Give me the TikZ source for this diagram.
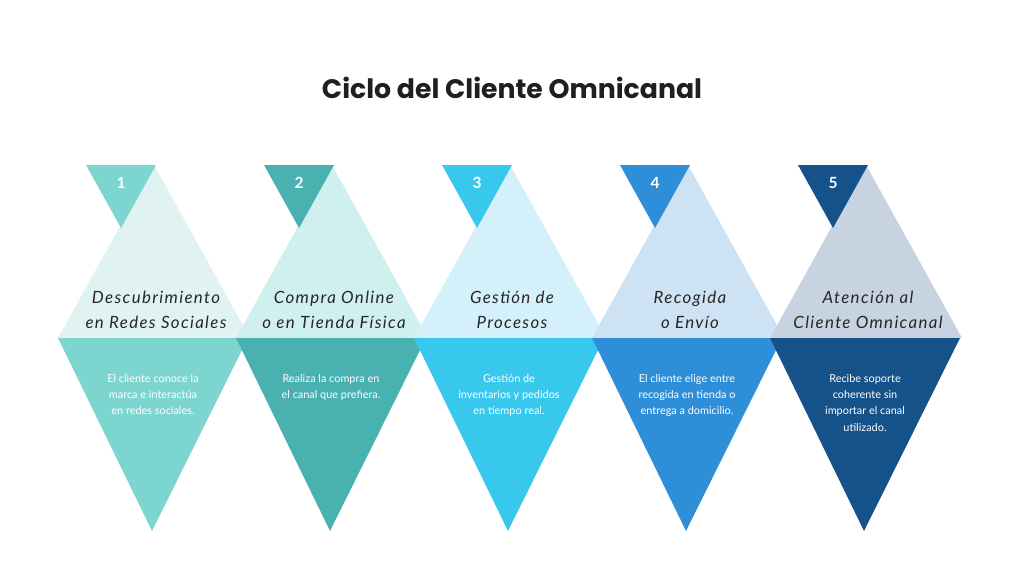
\documentclass[tikz,border=0pt]{standalone}
\usepackage{fontspec}
\setmainfont{Lato}
\newfontfamily\titlefont{Poppins}[BoldFont=* Bold]
\newfontfamily\labelfont{Lato}[LetterSpace=8]
\definecolor{cA}{HTML}{7DD5D0}\definecolor{lA}{HTML}{E0F3F2}
\definecolor{cB}{HTML}{4AB1B1}\definecolor{lB}{HTML}{D0EFEF}
\definecolor{cC}{HTML}{38C8EE}\definecolor{lC}{HTML}{D4F0FA}
\definecolor{cD}{HTML}{2E8FD8}\definecolor{lD}{HTML}{CDE2F3}
\definecolor{cE}{HTML}{15528A}\definecolor{lE}{HTML}{C8D3E1}
\begin{document}
\begin{tikzpicture}[x=0.05cm,y=-0.05cm,
  title/.style={font=\titlefont\bfseries\fontsize{38}{44}\selectfont,text=black!88},
  stage/.style={font=\labelfont\itshape\fontsize{24}{36}\selectfont,text=black!85,align=center},
  desc/.style={font=\fontsize{15.5}{23}\selectfont,text=white,align=center},
  num/.style={font=\bfseries\fontsize{22}{26}\selectfont,text=white}]
\useasboundingbox[fill=white] (0,0) rectangle (1024,576);
\node[title] (title) at (512,88) {Ciclo del Cliente Omnicanal};
\foreach \cx/\c/\l/\n/\lab/\txt in {
  152/cA/lA/1/{Descubrimiento\\en Redes Sociales}/{El cliente conoce la\\marca e interactúa\\en redes sociales.},
  330/cB/lB/2/{Compra Online\\o en Tienda Física}/{Realiza la compra en\\el canal que prefiera.},
  508/cC/lC/3/{Gestión de\\Procesos}/{Gestión de\\inventarios y pedidos\\en tiempo real.},
  686/cD/lD/4/{Recogida\\o Envío}/{El cliente elige entre\\recogida en tienda o\\entrega a domicilio.},
  864/cE/lE/5/{Atención al\\Cliente Omnicanal}/{Recibe soporte\\coherente sin\\importar el canal\\utilizado.}}{
  % light upper triangle and dark lower triangle
  \fill[\l] (\cx-94,338) -- (\cx+2,165) -- (\cx+98,338) -- cycle;
  \fill[\c] (\cx-94,338) -- (\cx+96,338) -- (\cx,531) -- cycle;
  % small number triangle
  \fill[\c] (\cx-66,165) -- (\cx+4,165) -- (\cx-31,228) -- cycle;
  \node[num] (n\n) at (\cx-31,183) {\n};
  \node[stage] (s\n) at (\cx+4,310) {\lab};
  \node[desc,anchor=north] (d\n) at (\cx+1,372) {\txt};
}
\end{tikzpicture}
\end{document}
